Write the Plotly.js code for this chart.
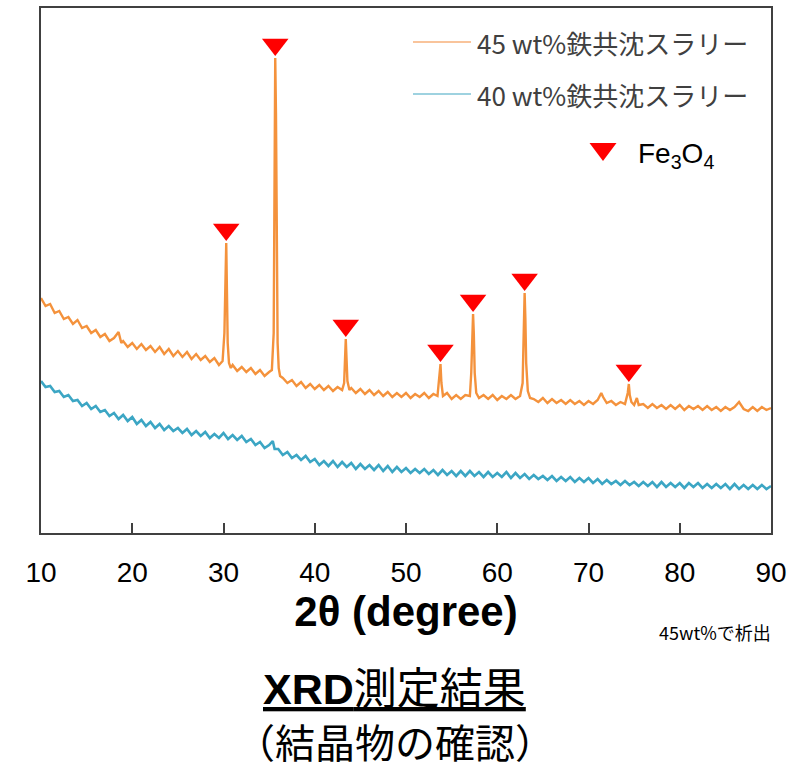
<!DOCTYPE html>
<html>
<head>
<meta charset="utf-8">
<script src="https://cdn.plot.ly/plotly-3.0.1.min.js"></script>
<style>html,body{margin:0;padding:0;background:#fff;}#chart{width:807px;height:763px;}</style>
</head>
<body>
<div id="chart"></div>
<script>
// ---- data (2θ in degrees, intensity in arbitrary units) ----
const angle45 = [10.0,10.5,11.0,11.5,12.0,12.5,13.0,13.5,14.0,14.5,15.0,15.5,16.0,16.5,17.0,17.5,18.0,18.5,18.8,19.0,19.5,20.0,20.5,21.0,21.5,22.0,22.5,23.0,23.5,24.0,24.5,25.0,25.5,26.0,26.5,27.0,27.5,28.0,28.5,29.0,29.5,29.9,30.1,30.2,30.3,30.38,30.46,30.6,30.8,31.0,31.5,32.0,32.5,33.0,33.5,34.0,34.5,35.0,35.3,35.5,35.6,35.67,35.75,35.83,35.93,36.05,36.2,36.5,37.0,37.5,38.0,38.5,39.0,39.5,40.0,40.5,41.0,41.5,42.0,42.5,43.0,43.22,43.32,43.4,43.48,43.58,43.8,44.0,44.5,45.0,45.5,46.0,46.5,47.0,47.5,48.0,48.5,49.0,49.5,50.0,50.5,51.0,51.5,52.0,52.5,53.0,53.45,53.66,53.78,53.88,54.05,54.5,55.0,55.5,56.0,56.5,57.0,57.15,57.27,57.35,57.43,57.53,57.7,58.0,58.5,59.0,59.5,60.0,60.5,61.0,61.5,62.0,62.5,62.78,62.9,63.0,63.08,63.17,63.35,63.6,64.0,64.5,65.0,65.5,66.0,66.5,67.0,67.5,68.0,68.5,69.0,69.5,70.0,70.5,71.0,71.4,71.6,72.0,72.5,73.0,73.5,74.0,74.3,74.42,74.52,74.7,75.0,75.3,75.5,76.0,76.5,77.0,77.5,78.0,78.5,79.0,79.5,80.0,80.5,81.0,81.5,82.0,82.5,83.0,83.5,84.0,84.5,85.0,85.5,86.0,86.5,87.0,87.5,88.0,88.5,89.0,89.5,90.0];
const intensity45 = [235,227,229,220,222,214,216,209,213,205,207,200,203,196,199,192,195,201,190,192,186,190,184,189,183,187,181,186,179,184,177,182,176,181,174,179,173,177,171,175,168,172,200,262,290,240,190,170,165,168,162,166,161,165,159,163,157,161,163,200,400,475,420,300,190,165,157,155,150,153,147,151,145,149,144,148,143,147,142,146,143,150,180,194,175,152,143,145,140,144,139,143,138,142,137,141,136,140,136,140,135,139,136,140,135,139,137,155,169,150,137,140,134,138,134,138,137,160,205,219,200,160,140,135,138,134,138,133,137,134,138,134,137,150,200,240,215,170,142,135,134,131,135,130,134,130,133,129,133,129,132,128,132,129,133,140,136,130,132,128,131,129,140,149,138,131,128,135,128,129,125,129,125,128,124,128,124,128,123,127,124,127,123,127,123,126,122,126,123,126,131,124,122,126,122,126,123,125];

const angle40 = [10.0,10.5,11.0,11.5,12.0,12.5,13.0,13.5,14.0,14.5,15.0,15.5,16.0,16.5,17.0,17.5,18.0,18.5,19.0,19.5,20.0,20.5,21.0,21.5,22.0,22.5,23.0,23.5,24.0,24.5,25.0,25.5,26.0,26.5,27.0,27.5,28.0,28.5,29.0,29.5,30.0,30.5,31.0,31.5,32.0,32.5,33.0,33.5,34.0,34.5,35.0,35.4,35.6,36.0,36.5,37.0,37.5,38.0,38.5,39.0,39.5,40.0,40.5,41.0,41.5,42.0,42.5,43.0,43.5,44.0,44.5,45.0,45.5,46.0,46.5,47.0,47.5,48.0,48.5,49.0,49.5,50.0,50.5,51.0,51.5,52.0,52.5,53.0,53.5,54.0,54.5,55.0,55.5,56.0,56.5,57.0,57.5,58.0,58.5,59.0,59.5,60.0,60.5,61.0,61.5,62.0,62.5,63.0,63.5,64.0,64.5,65.0,65.5,66.0,66.5,67.0,67.5,68.0,68.5,69.0,69.5,70.0,70.5,71.0,71.5,72.0,72.5,73.0,73.5,74.0,74.5,75.0,75.5,76.0,76.5,77.0,77.5,78.0,78.5,79.0,79.5,80.0,80.5,81.0,81.5,82.0,82.5,83.0,83.5,84.0,84.5,85.0,85.5,86.0,86.5,87.0,87.5,88.0,88.5,89.0,89.5,90.0];
const intensity40 = [152,146,147,141,142,136,138,132,133,127,130,124,127,121,123,117,120,114,118,112,116,109,113,107,111,105,109,103,107,102,105,100,104,98,102,97,101,95,99,95,100,94,98,93,97,91,94,88,91,85,88,92,84,84,78,81,75,78,73,77,71,74,68,72,67,72,66,71,66,70,64,69,64,68,63,68,62,67,61,66,61,65,60,64,60,64,59,63,58,63,58,62,57,62,57,62,57,61,56,61,56,60,56,61,55,60,55,59,54,58,54,57,53,57,52,56,52,56,51,55,51,55,50,54,49,53,49,52,48,52,48,51,47,51,47,51,46,51,46,50,46,50,45,50,46,50,45,49,45,49,45,49,44,49,44,48,44,48,44,48,44,47];

// Fe3O4 reflections marked with triangles
const fe3o4Angle = [30.3, 35.67, 43.4, 53.78, 57.35, 63.0, 74.42];
const fe3o4PeakTop = [290, 475, 194, 169, 219, 240, 149];

const seriesNames = ['45 wt%鉄共沈スラリー', '40 wt%鉄共沈スラリー'];
const xTicks = [10, 20, 30, 40, 50, 60, 70, 80, 90];

// ---- layout helpers ----
const W = 807, H = 763;
const M = {l: 41, r: 36, t: 8, b: 230};
const PW = W - M.l - M.r, PH = H - M.t - M.b;
const px = x => (x - M.l) / PW;          // pixel -> paper x
const py = y => (H - M.b - y) / PH;      // pixel -> paper y

const orange = '#F4923C', blue = '#3CA6C4';
const markerSize = 23;
const markerLift = 2 + markerSize / 2;

const traces = [
  {x: angle45, y: intensity45, type: 'scatter', mode: 'lines', name: seriesNames[0],
   line: {color: orange, width: 2.4}, hoverinfo: 'skip'},
  {x: angle40, y: intensity40, type: 'scatter', mode: 'lines', name: seriesNames[1],
   line: {color: blue, width: 2.6}, hoverinfo: 'skip'},
  {x: fe3o4Angle, y: fe3o4PeakTop.map(v => v + markerLift), type: 'scatter', mode: 'markers',
   name: 'Fe3O4', marker: {symbol: 'triangle-down', size: markerSize, color: '#FF0000', line: {width: 0}}, hoverinfo: 'skip'}
];

const axisColor = '#404040';
const tri = (cx, cy) => {
  // legend triangle path in paper coords (cx, cy pixel centre)
  const w = 13.5, top = 9, bot = 9;
  return `M ${px(cx - w)} ${py(cy - top)} L ${px(cx + w)} ${py(cy - top)} L ${px(cx)} ${py(cy + bot)} Z`;
};

const layout = {
  width: W, height: H,
  margin: M,
  paper_bgcolor: '#fff', plot_bgcolor: '#fff',
  showlegend: false,
  font: {family: 'Liberation Sans, Arial, sans-serif', color: '#000'},
  xaxis: {
    range: [10, 90], tickvals: xTicks, ticktext: xTicks.map(String),
    ticks: 'inside', ticklen: 10, tickwidth: 2, tickcolor: axisColor,
    showline: true, linecolor: axisColor, linewidth: 2, mirror: true,
    showgrid: false, zeroline: false,
    tickfont: {family: 'Liberation Sans, Arial, sans-serif', size: 28, color: '#000'},
    ticklabelstandoff: 13,
    title: {text: '<b>2θ (degree)</b>', font: {family: 'Liberation Sans, Arial, sans-serif', size: 42, color: '#000'}, standoff: 10}
  },
  yaxis: {
    range: [0, PH], showticklabels: false, ticks: '',
    showline: true, linecolor: axisColor, linewidth: 2, mirror: true,
    showgrid: false, zeroline: false
  },
  shapes: [
    {type: 'line', xref: 'paper', yref: 'paper', x0: px(413), x1: px(471), y0: py(42), y1: py(42), line: {color: '#F7B07A', width: 1.6}},
    {type: 'line', xref: 'paper', yref: 'paper', x0: px(413), x1: px(471), y0: py(94), y1: py(94), line: {color: '#7EC3D6', width: 1.6}},
    {type: 'path', xref: 'paper', yref: 'paper', path: tri(603, 152), fillcolor: '#FF0000', line: {width: 0}}
  ],
  annotations: [
    {xref: 'paper', yref: 'paper', x: px(475), y: py(42), xanchor: 'left', yanchor: 'middle', showarrow: false,
     text: seriesNames[0], font: {family: 'Noto Sans CJK JP', size: 26, color: '#404040'}},
    {xref: 'paper', yref: 'paper', x: px(475), y: py(94), xanchor: 'left', yanchor: 'middle', showarrow: false,
     text: seriesNames[1], font: {family: 'Noto Sans CJK JP', size: 26, color: '#404040'}},
    {xref: 'paper', yref: 'paper', x: px(636), y: py(155), xanchor: 'left', yanchor: 'middle', showarrow: false,
     text: 'Fe<sub>3</sub>O<sub>4</sub>', font: {family: 'Liberation Sans, Arial, sans-serif', size: 28, color: '#000'}},
    {xref: 'paper', yref: 'paper', x: px(773), y: py(632), xanchor: 'right', yanchor: 'middle', showarrow: false,
     text: '45wt%で析出', font: {family: 'Noto Sans CJK JP', size: 18, color: '#000'}},
    {xref: 'paper', yref: 'paper', x: px(394), y: py(689), xanchor: 'center', yanchor: 'middle', showarrow: false,
     text: '<u><b>XRD</b>測定結果</u>', font: {family: 'Liberation Sans, Noto Sans CJK JP', size: 43, color: '#000'}},
    {xref: 'paper', yref: 'paper', x: px(395), y: py(741), xanchor: 'center', yanchor: 'middle', showarrow: false,
     text: '（結晶物の確認）', font: {family: 'Noto Sans CJK JP', size: 40, color: '#000'}}
  ]
};

Plotly.newPlot('chart', traces, layout, {staticPlot: true, displayModeBar: false});
</script>
</body>
</html>
